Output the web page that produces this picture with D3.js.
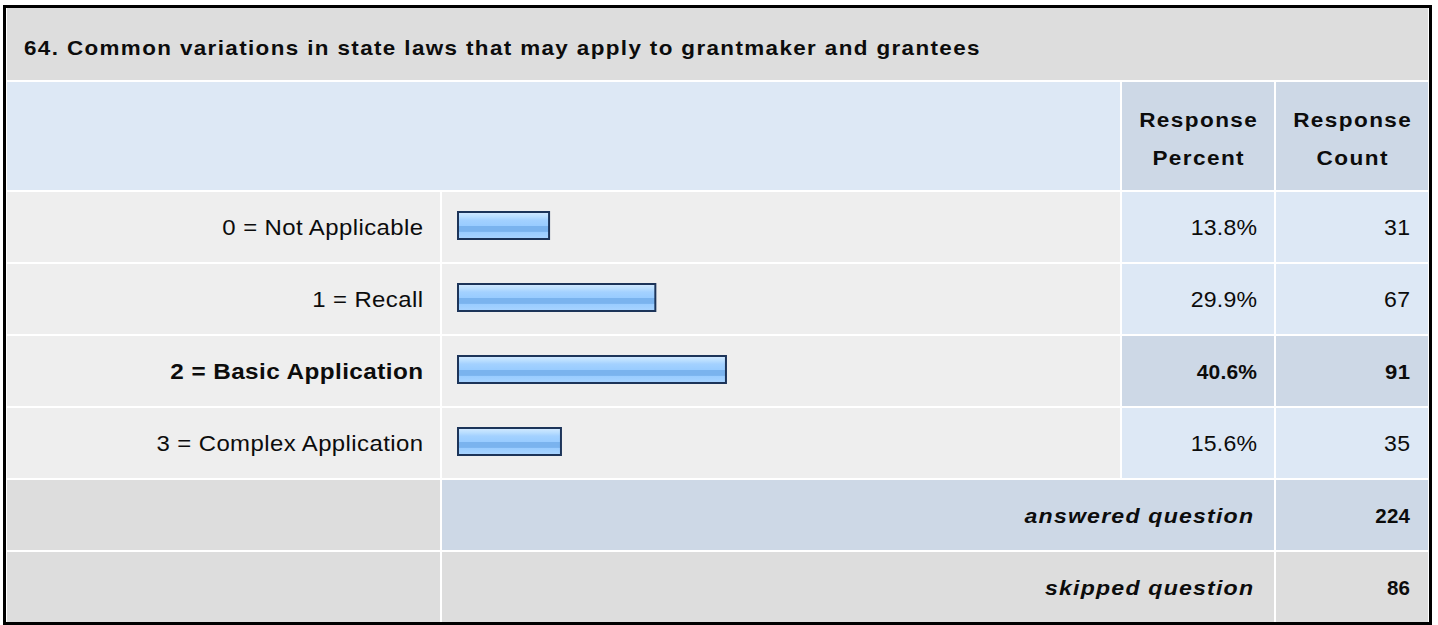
<!DOCTYPE html>
<html lang="en">
<head>
<meta charset="UTF-8">
<title>Question 64</title>
<script src="https://cdn.jsdelivr.net/npm/d3@7"></script>
<style>
  body { margin: 0; background: #fff; }
  svg text { font-family: "Liberation Sans", Arial, sans-serif; fill: #0c0c0c; }
</style>
</head>
<body>
<script>
// chart data
var title = "64. Common variations in state laws that may apply to grantmaker and grantees";
var categories = ["0 = Not Applicable", "1 = Recall", "2 = Basic Application", "3 = Complex Application"];
var percents = [13.8, 29.9, 40.6, 15.6];
var counts = [31, 67, 91, 35];
var headerLabels = [["Response", "Percent"], ["Response", "Count"]];
var totals = [["answered question", 224], ["skipped question", 86]];

var w = 1438, h = 625;

var svg = d3.select("body").append("svg")
    .attr("width", w)
    .attr("height", h);

// column edges
var colLabel = [7, 440], colBar = [442, 1120], colPct = [1122, 1274], colCnt = [1276, 1428];
var rowH = 70, gap = 2, firstRow = 192;

var x = d3.scaleLinear().domain([0, 100]).range([458, 1118]);
var y = d3.scaleLinear().domain([0, 1]).range([firstRow, firstRow + rowH + gap]);

var maxIdx = d3.maxIndex(percents);

// bar gradient
var grad = svg.append("defs").append("linearGradient")
    .attr("id", "barGrad").attr("x1", 0).attr("y1", 0).attr("x2", 0).attr("y2", 1);
[[0, "#d4e9ff"], [0.15, "#bde0ff"], [0.3, "#a3d1ff"], [0.5, "#99ccff"], [0.52, "#7ab3ee"], [0.72, "#7ab3ee"], [0.74, "#99ccff"], [1, "#a9d4ff"]]
  .forEach(function(s) {
    grad.append("stop").attr("offset", s[0]).attr("stop-color", s[1]);
  });

function cell(x0, x1, y0, y1, fill) {
  svg.append("rect")
    .attr("x", x0).attr("y", y0)
    .attr("width", x1 - x0).attr("height", y1 - y0)
    .attr("fill", fill);
}

// text drawn a little wider than the stock font (sx) with some tracking (ls)
function stext(px, py, anchor, size, sx, ls, weight, style, str) {
  var g = svg.append("g").attr("transform", "translate(" + px + "," + py + ") scale(" + sx + ",1)");
  g.append("text")
    .attr("x", anchor === "end" ? ls : anchor === "middle" ? ls / 2 : 0)
    .attr("text-anchor", anchor)
    .attr("font-size", size + "px")
    .attr("letter-spacing", ls + "px")
    .attr("font-weight", weight)
    .attr("font-style", style)
    .text(str);
}

// title band
cell(7, 1428, 8, 80, "#dddddd");
stext(24, 55, "start", 19.5, 1.15, 1.2, "bold", "normal", title);

// header row
cell(7, colBar[1], 82, 190, "#dde8f5");
cell(colPct[0], colPct[1], 82, 190, "#cdd8e6");
cell(colCnt[0], colCnt[1], 82, 190, "#cdd8e6");
[colPct, colCnt].forEach(function(c, i) {
  headerLabels[i].forEach(function(line, j) {
    stext((c[0] + c[1]) / 2, 127 + j * 38, "middle", 20.5, 1.1, 1.3, "bold", "normal", line);
  });
});

// data rows
categories.forEach(function(d, i) {
  var top = y(i);
  var hi = i === maxIdx;
  cell(colLabel[0], colLabel[1], top, top + rowH, "#eeeeee");
  cell(colBar[0], colBar[1], top, top + rowH, "#eeeeee");
  cell(colPct[0], colPct[1], top, top + rowH, hi ? "#cdd8e6" : "#dde8f5");
  cell(colCnt[0], colCnt[1], top, top + rowH, hi ? "#cdd8e6" : "#dde8f5");

  if (hi) {
    stext(423, top + 43, "end", 22.5, 1.08, 0.4, "bold", "normal", d);
    stext(1257, top + 43, "end", 21, 1.0, 0.2, "bold", "normal", percents[i].toFixed(1) + "%");
    stext(1410, top + 43, "end", 21, 1.05, 0.5, "bold", "normal", counts[i]);
  } else {
    stext(423, top + 43, "end", 22.8, 1.05, 0.4, "normal", "normal", d);
    stext(1257, top + 43, "end", 22, 1.05, 0.2, "normal", "normal", percents[i].toFixed(1) + "%");
    stext(1410, top + 43, "end", 22, 1.05, 0.2, "normal", "normal", counts[i]);
  }

  svg.append("rect")
    .attr("x", x(0)).attr("y", top + 20)
    .attr("width", x(percents[i]) - x(0)).attr("height", 27)
    .attr("fill", "url(#barGrad)")
    .attr("stroke", "#1c3459").attr("stroke-width", 2);
});

// answered / skipped
totals.forEach(function(t, k) {
  var top = y(categories.length + k);
  var mid = k === 0 ? "#cdd8e6" : "#dddddd";
  cell(colLabel[0], colLabel[1], top, top + rowH, "#dddddd");
  cell(colBar[0], colPct[1], top, top + rowH, mid);
  cell(colCnt[0], colCnt[1], top, top + rowH, mid);
  stext(1253, top + 43, "end", 21, 1.1, 1.1, "bold", "italic", t[0]);
  stext(1410, top + 43, "end", 20.5, 1.0, 0.3, "bold", "normal", t[1]);
});

// outer frame
svg.append("rect")
  .attr("x", 4.5).attr("y", 6.5)
  .attr("width", 1426).attr("height", 617)
  .attr("fill", "none")
  .attr("stroke", "#000").attr("stroke-width", 3);
</script>
</body>
</html>
